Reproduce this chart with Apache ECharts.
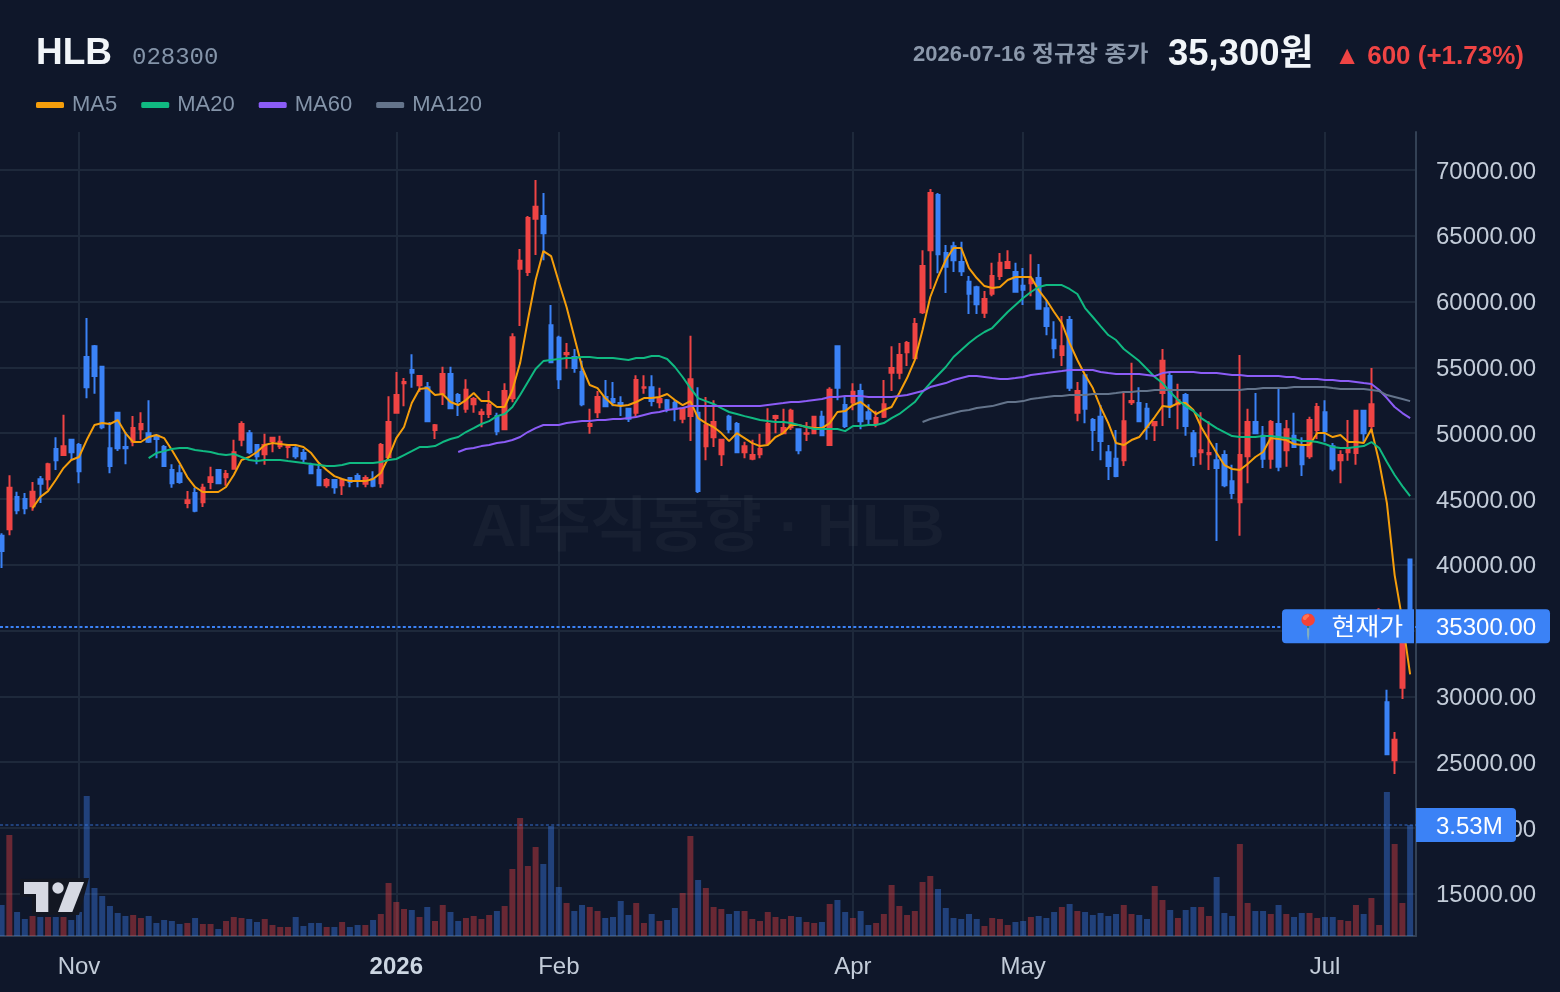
<!DOCTYPE html>
<html lang="ko">
<head>
<meta charset="utf-8">
<title>HLB 028300</title>
<style>
html,body{margin:0;padding:0;background:#0f172a;}
#chart{width:1560px;height:992px;}
</style>
<script src="https://cdn.jsdelivr.net/npm/echarts@6/dist/echarts.min.js"></script>
</head>
<body>
<div id="chart"></div>
<script>
// Daily candles, oldest first: [open, close, low, high]
const candles = [
[42200,41050,39750,42400],[42700,45850,42250,46800],[45150,44150,43850,45550],[45000,44300,43850,45450],[44450,45550,44100,46300],
[46500,46150,44700,46750],[46500,47650,45700,47750],[48800,47950,47200,49700],[48350,49000,48350,51400],[49500,48550,47950,49550],
[49100,47100,46200,49250],[55800,53500,52650,58750],[56600,54350,53000,56700],[55050,50450,50300,55050],[48850,47500,46950,50850],
[51550,48850,48650,51550],[48950,48850,47650,50100],[49350,50400,49000,51300],[50300,50700,49500,51600],[50000,49350,49250,52500],
[49800,49550,48100,49850],[48950,47500,47500,49100],[47200,46200,45850,47650],[46950,46300,46150,47600],[44700,44900,44300,45600],
[45450,44100,44000,45850],[44750,45850,44400,46150],[46300,46650,45750,47450],[47200,46200,46150,47200],[46650,46900,46000,47200],
[47300,48550,47300,49500],[49500,50700,49000,50900],[50000,48550,48400,50250],[49100,48250,47650,49100],[48400,49100,47600,49950],
[49400,49650,48550,49700],[49000,49350,48800,49800],[48950,49100,48100,49100],[48850,48250,48050,49000],[48500,48050,47750,48800],
[47500,46950,46900,47750],[47200,46050,46050,47600],[46050,46450,45850,46600],[46450,45900,45400,46500],[46050,46450,45300,46600],
[46600,46300,45900,46650],[46750,46500,45900,46950],[46150,46600,45900,46800],[46500,46000,45900,47100],[46200,49100,45850,49250],
[48200,50850,48100,52800],[51550,52900,51550,54650],[53800,53900,52050,54200],[54800,54600,53450,56000],[53650,54350,53150,54400],
[53500,50900,50900,53900],[50250,50600,49550,50700],[53000,54500,52150,55050],[54500,51900,51850,55050],[52900,52450,51300,53050],
[51850,53300,51550,54100],[52200,52600,51550,52750],[51450,51600,50450,51850],[51450,52150,51150,53200],[51300,50150,49850,51550],
[50300,53200,50300,53800],[52650,57300,52350,57600],[62500,63100,58150,64000],[62250,66350,61950,66500],[66300,67200,63550,69250],
[66500,65200,63150,68250],[58200,55400,55400,59750],[57250,54100,53350,57400],[56000,56100,54900,56850],[55800,54950,54600,56400],
[54650,52200,52050,55500],[50550,50700,49950,51850],[51600,52750,51150,53200],[52750,52050,52050,54050],[52600,52350,52050,53900],
[52300,52150,51300,52800],[51850,51100,50850,51900],[51550,54050,51250,54400],[53450,53500,53000,54400],[53500,52450,52050,54400],
[52350,52600,51900,53450],[52500,51900,51600,52600],[52300,51850,50900,52500],[51100,51850,50750,51900],[51300,54100,49400,57400],
[51550,45600,45450,53500],[49000,50600,47950,52750],[49700,50850,48950,52500],[48400,49500,47500,49500],[51250,50300,50000,51400],
[50700,48550,48500,50850],[48550,49000,48100,49350],[48050,48350,47950,49500],[48400,48800,48100,49950],[49250,50700,49100,51900],
[51150,51300,50000,51400],[50000,50400,49950,51850],[50450,51700,50250,51850],[50300,48700,48400,50300],[49950,50000,49400,50850],
[50000,51250,49950,51250],[51250,49850,49850,51700],[49100,53300,49100,53500],[56600,53450,52500,56600],[52150,50550,50400,52800],
[52350,53150,51750,53800],[53200,50900,50300,53750],[51600,51100,50550,52200],[50750,51150,50450,51700],[51250,52200,51150,54050],
[54600,54950,53200,56600],[54600,55950,54100,56850],[56150,56850,55100,57000],[55700,58300,55700,58750],[59200,62700,59050,63900],
[63900,68250,60950,68550],[68100,63600,62150,68250],[63700,62650,60650,64300],[64200,63150,62250,64550],[63000,62300,61950,64550],
[61500,60600,59050,61950],[61100,59800,59050,61200],[59150,60200,58750,60800],[60600,61950,60400,62950],[61950,62950,61650,63700],
[62550,63000,62500,63900],[62250,60750,60750,62950],[61200,60900,59750,62550],[61400,61700,60400,63600],[61800,59450,59450,62850],
[59500,58150,57450,60100],[57100,56450,55700,58500],[55950,56600,55100,58900],[58600,53450,53200,58900],[51550,53200,50900,53900],
[54400,51850,50750,54400],[51000,50250,48650,51150],[51250,49400,47950,52150],[48550,47500,46450,49100],[48050,46750,46650,50250],
[47950,50900,47500,53200],[52350,52450,52150,55350],[52300,50900,50850,53500],[51850,50450,49500,52300],[50600,50850,49400,50900],
[53050,55500,50550,56400],[54350,52050,51150,54650],[52200,52500,50300,53750],[52900,50550,49800,53050],[50000,48250,47500,50250],
[48550,48700,47600,51600],[48400,48500,47200,50900],[47950,47350,41800,49250],[48350,46050,45900,48700],[46350,45450,45000,47600],
[44750,48350,42200,55950],[48250,50850,46200,51850],[50850,50000,49950,53050],[49800,48050,47350,50550],[48050,50850,47300,51000],
[50700,47450,47100,53500],[48700,50300,47450,51000],[49800,48950,48950,51550],[49000,47650,46750,49700],[48250,51000,48050,51250],
[50250,52000,49550,52300],[51600,50150,49350,52500],[49000,47300,47100,49250],[47950,48350,46200,48700],[48550,48800,47900,51000],
[48500,51700,47600,51700],[51700,50000,49350,51700],[50550,52200,50000,54950],[36500,36550,36000,36700],[29550,25600,25600,30500],
[25150,26700,24100,27300],[30650,34700,29800,35500],[40400,35300,35000,40400]
];

// Traded volume in thousands of shares, one per candle
const volumes = [
986,3212,763,541,636,604,604,604,604,509,763,4452,1526,1272,954,731,636,668,572,636,
413,509,477,382,413,572,382,382,223,477,604,572,541,445,541,350,286,286,604,318,
413,413,286,286,445,286,350,350,509,700,1685,1081,859,827,604,922,477,986,763,477,
572,636,541,668,795,954,2131,3752,2226,2830,2290,3498,1558,1049,795,986,922,795,572,604,
1113,668,1049,413,700,477,509,890,1367,3180,1781,1526,922,859,700,795,795,541,477,763,
604,541,636,604,445,413,445,1018,1145,763,572,795,350,413,700,1622,954,668,795,1717,
1908,1495,890,572,541,700,541,318,572,541,350,445,477,604,636,572,763,922,1018,795,
763,668,731,636,700,986,700,668,541,1590,1145,827,572,827,922,922,636,1876,731,636,
2926,1049,795,795,700,986,700,604,731,731,572,604,604,509,477,986,700,1208,350,4579,
2926,1049,3530
];

// Moving averages as plotted; each list ends on the latest candle
const ma5 = [
44310,45150,45600,46440,47350,47960,48190,49480,50620,50770,50700,51000,50010,49330,49330,49710,49860,49630,48720,47730,
46670,45910,45530,45530,45530,45910,46820,47960,48190,48570,49100,49250,49180,49100,49100,48950,48490,47730,47200,46740,
46520,46360,46360,46360,46520,46970,48190,49630,50470,52290,53360,53430,52900,52980,52370,52140,52520,53050,52440,52440,
51990,51990,53280,55330,58600,61640,63840,63460,61490,59590,57310,55030,53660,53430,52670,52140,52060,52140,52370,52670,
52670,52750,52980,52520,52140,52440,51150,50770,50470,50010,49400,50010,49630,49250,49020,49100,49710,50010,50620,50620,
50470,50390,50390,50770,51610,51680,52140,52370,51910,51460,51760,51990,53050,54190,55560,57840,60350,61870,63160,64070,
64070,62550,61790,61180,61030,61110,61640,61870,61870,61870,60880,60120,59210,58370,56850,55560,54420,53430,51990,50770,
49250,49100,49480,49710,50470,51230,52060,51990,52290,52290,51760,50470,49480,48490,47580,47280,47200,47660,48190,48570,
49630,49560,49480,49180,49100,49100,50010,50010,49710,49860,49330,49330,49250,50320,47810,44690,39220,35800,31670
];
const ma20 = [
48110,48490,48640,48800,48870,48870,48720,48640,48570,48420,48340,48420,48190,47960,47880,47960,47960,47960,47880,47810,
47730,47660,47580,47500,47500,47580,47730,47730,47730,47730,47810,47960,48040,48340,48640,48950,48950,49020,49330,49560,
49710,50090,50390,50700,50920,51300,51460,51990,52900,53890,54880,55480,55560,55640,55710,55710,55790,55790,55710,55710,
55710,55640,55560,55710,55710,55860,55860,55640,55030,54270,53430,52670,52440,52220,51910,51610,51460,51300,51150,51000,
50920,50850,50850,50770,50620,50470,50320,50320,50320,50320,50160,50540,50540,50620,50620,50770,51150,51460,51910,52370,
53130,53810,54420,55030,55790,56320,56850,57310,57690,57990,58600,59210,59740,60270,60730,61110,61260,61260,61260,60960,
60580,59510,58830,58140,57460,57080,56400,55940,55480,54880,54270,53810,53130,52520,52060,51680,51150,50770,50390,50090,
49780,49710,49710,49710,49780,49780,49710,49630,49560,49400,49400,49330,49180,48950,48870,48870,48950,49020,49330,48870,
47810,46820,45980,45220
];
const ma60 = [
48570,48800,48870,49020,49100,49250,49330,49480,49710,50090,50390,50620,50620,50620,50770,50850,50920,50920,51000,51000,
51080,51080,51150,51230,51380,51530,51610,51760,51840,51910,52060,52060,52060,52060,52060,52060,52060,52060,52060,52060,
52140,52220,52290,52370,52370,52440,52520,52600,52750,52750,52820,52820,52820,52750,52750,52750,52750,52820,52900,53050,
53200,53510,53660,53810,54040,54190,54340,54340,54270,54190,54120,54120,54190,54270,54420,54500,54570,54650,54720,54800,
54800,54800,54800,54650,54570,54500,54500,54500,54500,54420,54340,54570,54650,54650,54650,54650,54570,54570,54570,54500,
54420,54420,54340,54340,54340,54340,54340,54270,54270,54120,54120,54120,54040,54040,53960,53960,53890,53810,53740,53280,
52670,51990,51530,51150
];
const ma120 = [
50850,51080,51230,51380,51530,51680,51760,51910,51990,52060,52220,52370,52370,52440,52600,52670,52750,52820,52820,52900,
52900,52900,52980,52980,52980,53050,53130,53130,53200,53200,53280,53280,53280,53280,53280,53280,53280,53280,53280,53280,
53280,53280,53360,53360,53430,53430,53430,53430,53510,53510,53510,53510,53510,53430,53360,53360,53360,53360,53280,53200,
52900,52750,52600,52440
];

// Axis ticks: price levels and the candle index where each month label sits
const priceTicks = [15000,20000,25000,30000,35000,40000,45000,50000,55000,60000,65000,70000];
const monthTicks = [10,51,72,110,132,171];
const monthLabels = ['Nov','2026','Feb','Apr','May','Jul'];

// Header figures
const ticker = 'HLB';
const tickerCode = '028300';
const sessionDate = '2026-07-16';
const sessionName = '정규장 종가';
const priceLabel = '35,300원';
const changeLabel = '▲ 600 (+1.73%)';
const lastClose = 35300;
const lastVolume = 3530;

const UP = '#ef4444', DOWN = '#3b82f6', TAG = '#3b82f6';
const GRIDLINE = '#1e293b', AXISLINE = '#334155', BG = '#0f172a';
const SANS = '"Liberation Sans","Noto Sans CJK KR",sans-serif';

const chart = echarts.init(document.getElementById('chart'), null, {renderer: 'canvas'});

const lineOf = (name, values, color) => {
  const offset = candles.length - values.length;
  return {
    name, type: 'line', xAxisIndex: 0, yAxisIndex: 0, z: 5,
    data: values.map((v, i) => [i + offset, v]),
    showSymbol: false, symbol: 'none', color,
    lineStyle: {color, width: 2}, itemStyle: {color}, silent: true
  };
};

chart.setOption({
  animation: false,
  backgroundColor: BG,
  textStyle: {fontFamily: SANS},
  grid: {left: 0, right: 144, top: 132, bottom: 56, containLabel: false},
  legend: {
    left: 36, top: 94, padding: 0, itemWidth: 28, itemHeight: 6, itemGap: 24, selectedMode: false,
    data: ['MA5', 'MA20', 'MA60', 'MA120'].map(name => ({name, icon: 'roundRect'})),
    textStyle: {color: '#8494a9', fontSize: 22, fontFamily: SANS, padding: [0, 0, 0, 3]}
  },
  xAxis: {
    type: 'value', min: -0.207, max: 182.76, scale: true,
    axisLine: {onZero: false, lineStyle: {color: AXISLINE, width: 2}},
    axisTick: {show: false, customValues: monthTicks},
    splitLine: {show: true, lineStyle: {color: GRIDLINE, width: 2}},
    axisLabel: {
      customValues: monthTicks, margin: 19, fontSize: 24, color: '#c3ccd9', hideOverlap: false,
      formatter: v => {
        const label = monthLabels[monthTicks.indexOf(v)];
        return label === '2026' ? '{b|' + label + '}' : label;
      },
      rich: {b: {fontSize: 24, fontWeight: 'bold', color: '#cbd5e1', fontFamily: SANS}}
    }
  },
  yAxis: [
    {
      type: 'value', position: 'right', min: 11793, max: 72888,
      axisLine: {show: true, onZero: false, lineStyle: {color: AXISLINE, width: 2}},
      axisTick: {show: false, customValues: priceTicks},
      splitLine: {show: true, lineStyle: {color: GRIDLINE, width: 2}},
      axisLabel: {
        customValues: priceTicks, margin: 20,
        formatter: v => '{p|' + v.toFixed(2) + '}',
        rich: {p: {fontSize: 24, color: '#c3ccd9', fontFamily: SANS, padding: [4, 0, 0, 0]}}
      }
    },
    {type: 'value', show: false, min: 0, max: 25570, splitLine: {show: false}}
  ],
  series: [
    {
      name: 'Volume', type: 'bar', xAxisIndex: 0, yAxisIndex: 1, barWidth: 6, z: 2, silent: true,
      data: volumes.map((v, i) => ({
        value: [i, v],
        itemStyle: {color: candles[i][1] >= candles[i][0] ? UP : DOWN, opacity: 0.4}
      })),
      markLine: {
        silent: true, symbol: 'none', animation: false, label: {show: false},
        lineStyle: {color: TAG, type: [3, 2.3], width: 2, opacity: 0.4},
        data: [{yAxis: lastVolume}]
      }
    },
    {
      name: 'Price', type: 'candlestick', xAxisIndex: 0, yAxisIndex: 0, barWidth: 4, z: 3, silent: true,
      encode: {x: 0, y: [1, 2, 3, 4]},
      data: candles.map((c, i) => [i, c[0], c[1], c[2], c[3]]),
      itemStyle: {color: UP, color0: DOWN, borderColor: UP, borderColor0: DOWN, borderWidth: 2},
      markLine: {
        silent: true, symbol: 'none', animation: false, label: {show: false},
        lineStyle: {color: TAG, type: [3, 2.3], width: 2},
        data: [{yAxis: lastClose}]
      }
    },
    lineOf('MA5', ma5, '#f59e0b'),
    lineOf('MA20', ma20, '#10b981'),
    lineOf('MA60', ma60, '#8b5cf6'),
    lineOf('MA120', ma120, '#64748b')
  ]
});

// Header, watermark, logo and the value tags are placed once the scales exist
const priceY = chart.convertToPixel({yAxisIndex: 0}, lastClose);
const volumeY = chart.convertToPixel({yAxisIndex: 1}, lastVolume);
const text = (x, y, str, font, fill, align, stretch) => ({
  type: 'text', x, y, z: 50, scaleX: stretch || 1,
  style: {text: str, font, fill, align: align || 'left', verticalAlign: 'middle'}
});
const box = (x, y, width, height, r) => ({
  type: 'rect', z: 40, shape: {x, y, width, height, r}, style: {fill: TAG}
});

chart.setOption({
  graphic: {elements: [
    {type: 'text', x: 708, y: 529, z: 1, silent: true, scaleX: 1.035,
     style: {text: 'AI주식동향 · HLB', font: 'bold 60px ' + SANS, fill: 'rgba(255,255,255,0.035)', align: 'center', verticalAlign: 'middle'}},

    text(36, 54, ticker, 'bold 37px ' + SANS, '#f1f5f9'),
    text(132, 58, tickerCode, '24px "Liberation Mono",monospace', '#8494a9'),
    text(913, 54.5, sessionDate, 'bold 22px ' + SANS, '#8b98ab'),
    text(1032, 54.5, sessionName, 'bold 22px ' + SANS, '#8b98ab', 'left', 1.084),
    text(1168, 55, priceLabel, 'bold 36px ' + SANS, '#f1f5f9', 'left', 1.014),
    text(1524, 57, changeLabel, 'bold 26px ' + SANS, UP, 'right'),

    // TradingView mark over the volume pane
    {type: 'polygon', z: 30, shape: {points: [[20, 879], [89, 878], [79, 915], [32, 915], [32, 897], [20, 897]]}, style: {fill: '#131722'}},
    {type: 'polygon', z: 31, shape: {points: [[24, 882], [48.3, 882], [48.3, 912], [36, 912], [36, 894], [24, 894]]}, style: {fill: '#d6d9e3'}},
    {type: 'circle', z: 31, shape: {cx: 58, cy: 888, r: 5.7}, style: {fill: '#d6d9e3'}},
    {type: 'polygon', z: 31, shape: {points: [[69.3, 882], [84, 882], [72.3, 912], [58, 912]]}, style: {fill: '#d6d9e3'}},

    // Last price and last volume tags
    box(1282, priceY - 17.3, 132, 34, [4, 0, 0, 4]),
    box(1416, priceY - 17.3, 134, 34, [0, 4, 4, 0]),
    box(1416, volumeY - 17, 100, 34, [0, 4, 4, 0]),
    text(1292, priceY + 2, '📍 현재가', '24px ' + SANS, '#ffffff', 'left', 1.08),
    text(1436, priceY + 2, lastClose.toFixed(2), '24px ' + SANS, '#ffffff'),
    text(1436, volumeY + 2, (lastVolume / 1000).toFixed(2) + 'M', '24px ' + SANS, '#ffffff')
  ]}
});
</script>
</body>
</html>
